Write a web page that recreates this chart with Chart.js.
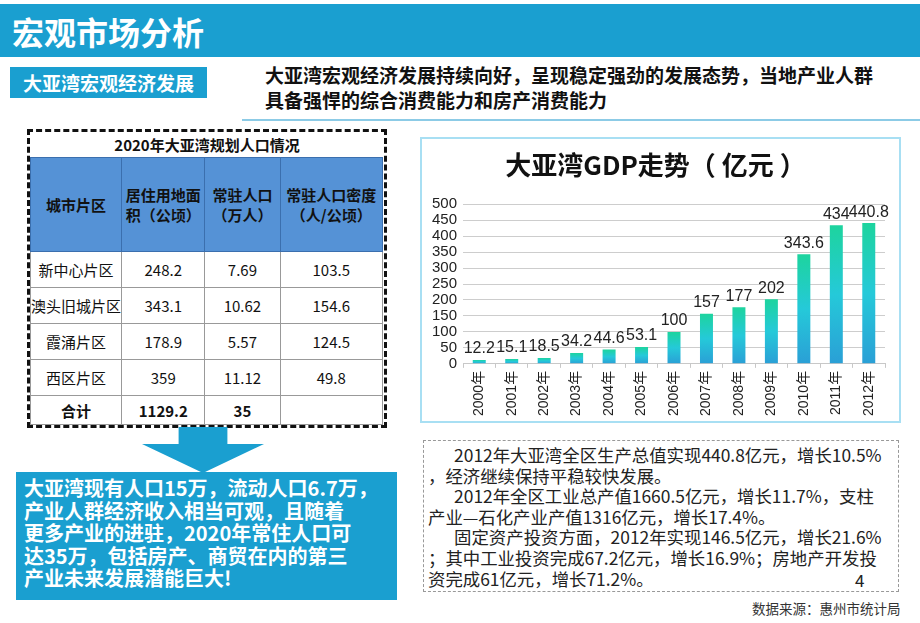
<!DOCTYPE html>
<html>
<head>
<meta charset="utf-8">
<script src="https://cdn.jsdelivr.net/npm/chart.js@4"></script>
<style>
  body { margin: 0; width: 920px; height: 623px; background: #fff; position: relative; overflow: hidden;
         font-family: "Noto Sans CJK SC", "Noto Sans", sans-serif; color: #111; }
  .abs { position: absolute; }
  #topbar { left: 0; top: 4px; width: 920px; height: 53px; background: #1a9fd0; }
  #topbar span { position: absolute; left: 12px; top: 4px; font-size: 32px; font-weight: bold; color: #fff; }
  #subbox { left: 10px; top: 67px; width: 197px; height: 31px; background: #1a9fd0; color: #fff;
            font-size: 19px; font-weight: bold; line-height: 31px; text-align: center; }
  #lead { left: 265px; top: 62px; font-size: 19px; font-weight: bold; line-height: 25px; color: #111; }
  #rule { left: 242px; top: 119px; width: 678px; height: 2px; background: #8ccbe6; }
  #tablebox { left: 27px; top: 129px; width: 354px; height: 293px; border: 3px dashed #111; }
  #tabletitle { left: 0; top: 2px; width: 354px; text-align: center; font-size: 15px; font-weight: bold; }
  table { position: absolute; left: 0px; top: 25px; border-collapse: collapse; width: 353px; }
  td { border: 1px solid #999; text-align: center; font-size: 15px; padding: 0; }
  tr.head td { background: #5592d6; border-color: #3b6fae; font-weight: bold; height: 93px; line-height: 20px; }
  tr.body td { height: 35px; }
  tr.total td { height: 28px; font-weight: bold; }
  #arrow { left: 142px; top: 427px; width: 122px; height: 46px; background: #1a9fd0;
           clip-path: polygon(30% 0, 70% 0, 70% 37%, 100% 37%, 50% 100%, 0 37%, 30% 37%); }
  #bluebox { left: 16px; top: 472px; width: 381px; height: 128px; background: #1a9fd0; color: #fff;
             font-size: 20px; font-weight: bold; line-height: 22.5px; box-sizing: border-box; padding: 5px 0 0 8px; }
  #chartbox { left: 420px; top: 137px; width: 477px; height: 282px; border: 2px solid #a8dff3; }
  #notes { left: 423px; top: 440px; width: 476px; height: 152px; border: 1px dashed #999; box-sizing: border-box;
           font-size: 17.4px; line-height: 20.6px; color: #222; padding: 4px 0 0 4px; }
  #pagenum { left: 855px; top: 567px; font-size: 17px; color: #222; }
  #source { left: 752px; top: 598px; font-size: 13.5px; color: #333; }
</style>
</head>
<body>
<div id="topbar" class="abs"><span>宏观市场分析</span></div>
<div id="subbox" class="abs">大亚湾宏观经济发展</div>
<div id="lead" class="abs">大亚湾宏观经济发展持续向好，呈现稳定强劲的发展态势，当地产业人群<br>具备强悍的综合消费能力和房产消费能力</div>
<div id="rule" class="abs"></div>

<div id="tablebox" class="abs">
  <div id="tabletitle" class="abs">2020年大亚湾规划人口情况</div>
  <table id="poptable"></table>
</div>

<div id="arrow" class="abs"></div>
<div id="bluebox" class="abs">大亚湾现有人口15万，流动人口6.7万，<br>产业人群经济收入相当可观，且随着<br>更多产业的进驻，2020年常住人口可<br>达35万，包括房产、商贸在内的第三<br>产业未来发展潜能巨大!</div>

<div id="chartbox" class="abs"><canvas id="gdpChart" width="477" height="282"></canvas></div>

<div id="notes" class="abs">&emsp;&ensp;2012年大亚湾全区生产总值实现440.8亿元，增长10.5%<br>，经济继续保持平稳较快发展。<br>&emsp;&ensp;2012年全区工业总产值1660.5亿元，增长11.7%，支柱<br>产业—石化产业产值1316亿元，增长17.4%。<br>&emsp;&ensp;固定资产投资方面，2012年实现146.5亿元，增长21.6%<br>；其中工业投资完成67.2亿元，增长16.9%；房地产开发投<br>资完成61亿元，增长71.2%。</div>
<div id="pagenum" class="abs">4</div>
<div id="source" class="abs">数据来源：惠州市统计局</div>

<script>
// table data
var tableHead = ['城市片区', '居住用地面<br>积（公顷）', '常驻人口<br>（万人）', '常驻人口密度<br>（人/公顷）'];
var districts = ['新中心片区', '澳头旧城片区', '霞涌片区', '西区片区'];
var landArea = ['248.2', '343.1', '178.9', '359'];
var population = ['7.69', '10.62', '5.57', '11.12'];
var density = ['103.5', '154.6', '124.5', '49.8'];
var totalRow = ['合计', '1129.2', '35', ''];
var colWidths = [92, 83, 75, 103];

// chart data
var years = ['2000年', '2001年', '2002年', '2003年', '2004年', '2005年', '2006年',
             '2007年', '2008年', '2009年', '2010年', '2011年', '2012年'];
var gdp = [12.2, 15.1, 18.5, 34.2, 44.6, 53.1, 100, 157, 177, 202, 343.6, 434, 440.8];

function buildTable() {
    var html = '<tr class="head">';
    for (var i = 0; i < tableHead.length; i++) {
        html += '<td style="width:' + colWidths[i] + 'px">' + tableHead[i] + '</td>';
    }
    html += '</tr>';
    for (var r = 0; r < districts.length; r++) {
        html += '<tr class="body"><td>' + districts[r] + '</td><td>' + landArea[r] + '</td><td>' +
                population[r] + '</td><td>' + density[r] + '</td></tr>';
    }
    html += '<tr class="total">';
    for (var j = 0; j < totalRow.length; j++) {
        html += '<td>' + totalRow[j] + '</td>';
    }
    html += '</tr>';
    document.getElementById('poptable').innerHTML = html;
}
buildTable();

function barGradient(context) {
    var chart = context.chart;
    if (!chart.chartArea || context.raw === undefined) return '#22c0c8';
    var yScale = chart.scales.y;
    var top = yScale.getPixelForValue(context.raw);
    var bottom = yScale.getPixelForValue(0);
    if (bottom - top < 1) return '#22c0c8';
    var g = chart.ctx.createLinearGradient(0, top, 0, bottom);
    g.addColorStop(0, '#1dd49e');
    g.addColorStop(0.5, '#25c9d9');
    g.addColorStop(1, '#2a9fd6');
    return g;
}

// value labels over the bars
var valueLabels = {
    id: 'valueLabels',
    afterDatasetsDraw: function (chart) {
        var ctx = chart.ctx;
        var meta = chart.getDatasetMeta(0);
        ctx.save();
        ctx.font = '16px "Liberation Sans", Arial, sans-serif';
        ctx.fillStyle = '#222';
        ctx.textAlign = 'center';
        ctx.textBaseline = 'bottom';
        meta.data.forEach(function (bar, i) {
            ctx.fillText(String(gdp[i]), bar.x, bar.y - 3);
        });
        ctx.restore();
    }
};

var gdpChart = new Chart(document.getElementById('gdpChart').getContext('2d'), {
    type: 'bar',
    data: {
        labels: years,
        datasets: [{
            data: gdp,
            backgroundColor: barGradient,
            barPercentage: 0.8,
            categoryPercentage: 0.5
        }]
    },
    options: {
        responsive: false,
        animation: false,
        layout: { padding: { left: 4, right: 14, top: 0, bottom: 2 } },
        plugins: {
            legend: { display: false },
            tooltip: { enabled: false },
            title: {
                display: true,
                text: '大亚湾GDP走势（ 亿元 ）',
                color: '#111',
                font: { family: '"Noto Sans CJK SC", sans-serif', size: 26, weight: 'bold' },
                padding: { top: 11, bottom: 23 }
            }
        },
        scales: {
            x: {
                offset: true,
                grid: { display: true, drawOnChartArea: false, tickLength: 4, color: '#c8c8c8', offset: true },
                border: { color: '#c8c8c8' },
                ticks: {
                    color: '#222',
                    maxRotation: 90,
                    minRotation: 90,
                    autoSkip: false,
                    font: { family: '"Liberation Sans", "Noto Sans CJK SC", sans-serif', size: 14 }
                }
            },
            y: {
                min: 0,
                max: 500,
                ticks: {
                    stepSize: 50,
                    autoSkip: false,
                    color: '#222',
                    padding: 6,
                    font: { family: '"Liberation Sans", Arial, sans-serif', size: 15 }
                },
                grid: { color: '#cdcdcd', drawTicks: false },
                border: { display: false }
            }
        }
    },
    plugins: [valueLabels]
});
</script>
</body>
</html>
